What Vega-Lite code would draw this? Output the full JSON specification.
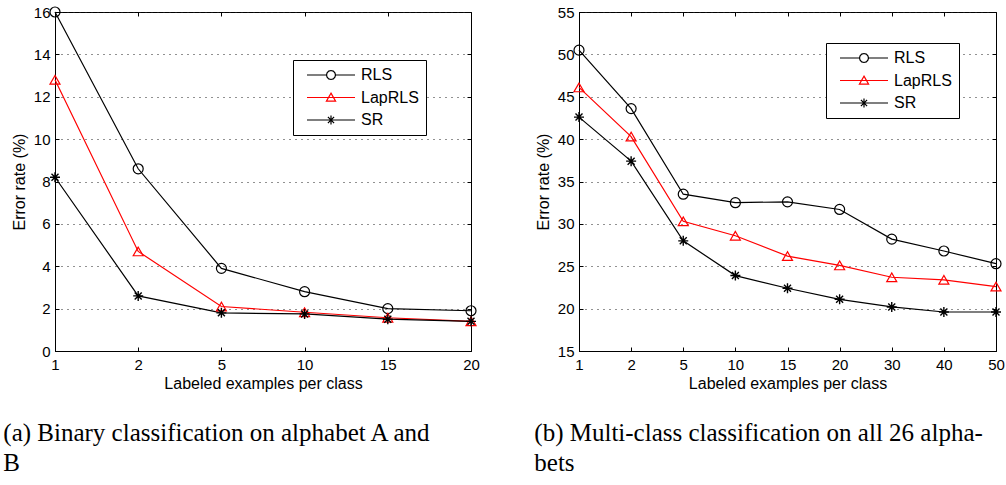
{
  "$schema": "https://vega.github.io/schema/vega-lite/v6.json",
  "background": "white",
  "padding": {"left": 2, "top": 4, "right": 0, "bottom": 0},
  "datasets": {
    "binary": [
      {"n": 1, "method": "RLS", "err": 16.0},
      {"n": 2, "method": "RLS", "err": 8.6},
      {"n": 5, "method": "RLS", "err": 3.9},
      {"n": 10, "method": "RLS", "err": 2.8},
      {"n": 15, "method": "RLS", "err": 2.0},
      {"n": 20, "method": "RLS", "err": 1.9},
      {"n": 1, "method": "LapRLS", "err": 12.8},
      {"n": 2, "method": "LapRLS", "err": 4.7},
      {"n": 5, "method": "LapRLS", "err": 2.1},
      {"n": 10, "method": "LapRLS", "err": 1.83},
      {"n": 15, "method": "LapRLS", "err": 1.57},
      {"n": 20, "method": "LapRLS", "err": 1.4},
      {"n": 1, "method": "SR", "err": 8.2},
      {"n": 2, "method": "SR", "err": 2.6},
      {"n": 5, "method": "SR", "err": 1.8},
      {"n": 10, "method": "SR", "err": 1.75},
      {"n": 15, "method": "SR", "err": 1.5},
      {"n": 20, "method": "SR", "err": 1.4}
    ],
    "multi": [
      {"n": 1, "method": "RLS", "err": 50.5},
      {"n": 2, "method": "RLS", "err": 43.6},
      {"n": 5, "method": "RLS", "err": 33.5},
      {"n": 10, "method": "RLS", "err": 32.5},
      {"n": 15, "method": "RLS", "err": 32.6},
      {"n": 20, "method": "RLS", "err": 31.7},
      {"n": 30, "method": "RLS", "err": 28.2},
      {"n": 40, "method": "RLS", "err": 26.8},
      {"n": 50, "method": "RLS", "err": 25.3},
      {"n": 1, "method": "LapRLS", "err": 46.1},
      {"n": 2, "method": "LapRLS", "err": 40.3},
      {"n": 5, "method": "LapRLS", "err": 30.3},
      {"n": 10, "method": "LapRLS", "err": 28.6},
      {"n": 15, "method": "LapRLS", "err": 26.2},
      {"n": 20, "method": "LapRLS", "err": 25.1},
      {"n": 30, "method": "LapRLS", "err": 23.7},
      {"n": 40, "method": "LapRLS", "err": 23.4},
      {"n": 50, "method": "LapRLS", "err": 22.6},
      {"n": 1, "method": "SR", "err": 42.6},
      {"n": 2, "method": "SR", "err": 37.4},
      {"n": 5, "method": "SR", "err": 28.0},
      {"n": 10, "method": "SR", "err": 23.9},
      {"n": 15, "method": "SR", "err": 22.4},
      {"n": 20, "method": "SR", "err": 21.1},
      {"n": 30, "method": "SR", "err": 20.2},
      {"n": 40, "method": "SR", "err": 19.6},
      {"n": 50, "method": "SR", "err": 19.6}
    ]
  },
  "config": {
    "view": {"stroke": "black", "strokeWidth": 1},
    "axis": {
      "labelFont": "Liberation Sans",
      "labelFontSize": 15,
      "labelColor": "black",
      "titleFont": "Liberation Sans",
      "titleFontSize": 16,
      "titleFontWeight": "normal",
      "titleColor": "black",
      "domainColor": "black",
      "tickColor": "black",
      "tickSize": -4,
      "gridColor": "#222222",
      "gridDash": [1, 5],
      "gridWidth": 1
    },
    "axisX": {"labelPadding": 10, "titlePadding": 3, "labelAngle": 0, "grid": false},
    "axisY": {"labelPadding": 9, "titlePadding": 6, "grid": true},
    "legend": {
      "orient": "none",
      "direction": "vertical",
      "padding": 7,
      "strokeColor": "black",
      "fillColor": "white",
      "labelFont": "Liberation Sans",
      "labelFontSize": 16,
      "labelColor": "black",
      "labelOffset": 45,
      "rowPadding": 6.5,
      "symbolSize": 64,
      "symbolStrokeWidth": 1.2
    }
  },
  "spacing": 53,
  "resolve": {
    "scale": {"color": "independent"},
    "legend": {"color": "independent"}
  },
  "hconcat": [
    {
      "width": 416,
      "height": 339,
      "data": {"name": "binary"},
      "title": {"text": ["(a) Binary classification on alphabet A and", "B"], "dx": -8, "font": "Liberation Serif", "fontSize": 25, "fontWeight": "normal", "color": "black", "orient": "bottom", "anchor": "start", "frame": "bounds", "lineHeight": 30, "offset": 30},
      "resolve": {"axis": {"x": "independent", "y": "independent"}},
      "encoding": {
        "x": {"field": "n", "type": "ordinal", "scale": {"type": "point", "padding": 0}, "axis": null},
        "y": {"field": "err", "type": "quantitative", "scale": {"domain": [0, 16], "nice": false, "zero": false}, "axis": null}
      },
      "layer": [
        {
          "mark": {"type": "line", "strokeWidth": 1.2},
          "encoding": {
            "x": {"field": "n", "type": "ordinal", "scale": {"type": "point", "padding": 0}, "axis": {"title": "Labeled examples per class"}},
            "y": {"field": "err", "type": "quantitative", "scale": {"domain": [0, 16], "nice": false, "zero": false}, "axis": {"title": "Error rate (%)", "values": [0, 2, 4, 6, 8, 10, 12, 14, 16]}},
            "color": {
              "field": "method", "type": "nominal",
              "scale": {"domain": ["RLS", "LapRLS", "SR"], "range": ["#000000", "#ff0000", "#000000"]},
              "legend": {
                "title": null,
                "legendX": 238, "legendY": 48,
                "encode": {"symbols": {"update": {
                  "shape": {"signal": "datum.value === 'RLS' ? 'M-0.25,0L4.625,0M6.875,0L11.75,0M6.875,0L6.724,0.563L6.313,0.974L5.75,1.125L5.188,0.974L4.776,0.563L4.625,0L4.776,-0.563L5.188,-0.974L5.75,-1.125L6.313,-0.974L6.724,-0.563Z' : datum.value === 'LapRLS' ? 'M-0.25,0L11.75,0M5.75,-1.1L6.9,0.9L4.6,0.9Z' : 'M-0.25,0L11.75,0M5.75,-1.1L5.75,1.1M4.97,-0.78L6.53,0.78M4.97,0.78L6.53,-0.78'"},
                  "fill": {"value": "transparent"},
                  "size": {"value": 64},
                  "strokeWidth": {"value": 1.2},
                  "opacity": {"value": 1}
                }}}
              }
            }
          }
        },
        {
          "transform": [{"filter": "datum.method === 'RLS'"}],
          "mark": {"type": "point", "shape": "circle", "filled": false, "color": "#000000", "strokeWidth": 1.2, "opacity": 1, "size": 100}
        },
        {
          "transform": [{"filter": "datum.method === 'LapRLS'"}],
          "mark": {"type": "point", "shape": "triangle-up", "filled": false, "color": "#ff0000", "strokeWidth": 1.2, "opacity": 1, "size": 100}
        },
        {
          "transform": [{"filter": "datum.method === 'SR'"}],
          "mark": {"type": "point", "shape": "M-1,0L1,0M0,-1L0,1M-0.7,-0.7L0.7,0.7M-0.7,0.7L0.7,-0.7", "filled": false, "color": "#000000", "strokeWidth": 1.4, "opacity": 1, "size": 100}
        },
        {
          "mark": {"type": "point", "opacity": 0},
          "encoding": {
            "x": {"field": "n", "type": "ordinal", "scale": {"type": "point", "padding": 0}, "axis": {"orient": "top", "labels": false, "title": null, "domain": false, "grid": false}},
            "y": {"field": "err", "type": "quantitative", "scale": {"domain": [0, 16], "nice": false, "zero": false}, "axis": {"orient": "right", "labels": false, "title": null, "domain": false, "grid": false, "values": [0, 2, 4, 6, 8, 10, 12, 14, 16]}}
          }
        }
      ]
    },
    {
      "width": 417,
      "height": 339,
      "data": {"name": "multi"},
      "title": {"text": ["(b) Multi-class classification on all 26 alpha-", "bets"], "dx": -1, "font": "Liberation Serif", "fontSize": 25, "fontWeight": "normal", "color": "black", "orient": "bottom", "anchor": "start", "frame": "bounds", "lineHeight": 30, "offset": 30},
      "resolve": {"axis": {"x": "independent", "y": "independent"}},
      "encoding": {
        "x": {"field": "n", "type": "ordinal", "scale": {"type": "point", "padding": 0}, "axis": null},
        "y": {"field": "err", "type": "quantitative", "scale": {"domain": [15, 55], "nice": false, "zero": false}, "axis": null}
      },
      "layer": [
        {
          "mark": {"type": "line", "strokeWidth": 1.2},
          "encoding": {
            "x": {"field": "n", "type": "ordinal", "scale": {"type": "point", "padding": 0}, "axis": {"title": "Labeled examples per class"}},
            "y": {"field": "err", "type": "quantitative", "scale": {"domain": [15, 55], "nice": false, "zero": false}, "axis": {"title": "Error rate (%)", "values": [15, 20, 25, 30, 35, 40, 45, 50, 55]}},
            "color": {
              "field": "method", "type": "nominal",
              "scale": {"domain": ["RLS", "LapRLS", "SR"], "range": ["#000000", "#ff0000", "#000000"]},
              "legend": {
                "title": null,
                "legendX": 247, "legendY": 31,
                "encode": {"symbols": {"update": {
                  "shape": {"signal": "datum.value === 'RLS' ? 'M-0.25,0L4.625,0M6.875,0L11.75,0M6.875,0L6.724,0.563L6.313,0.974L5.75,1.125L5.188,0.974L4.776,0.563L4.625,0L4.776,-0.563L5.188,-0.974L5.75,-1.125L6.313,-0.974L6.724,-0.563Z' : datum.value === 'LapRLS' ? 'M-0.25,0L11.75,0M5.75,-1.1L6.9,0.9L4.6,0.9Z' : 'M-0.25,0L11.75,0M5.75,-1.1L5.75,1.1M4.97,-0.78L6.53,0.78M4.97,0.78L6.53,-0.78'"},
                  "fill": {"value": "transparent"},
                  "size": {"value": 64},
                  "strokeWidth": {"value": 1.2},
                  "opacity": {"value": 1}
                }}}
              }
            }
          }
        },
        {
          "transform": [{"filter": "datum.method === 'RLS'"}],
          "mark": {"type": "point", "shape": "circle", "filled": false, "color": "#000000", "strokeWidth": 1.2, "opacity": 1, "size": 100}
        },
        {
          "transform": [{"filter": "datum.method === 'LapRLS'"}],
          "mark": {"type": "point", "shape": "triangle-up", "filled": false, "color": "#ff0000", "strokeWidth": 1.2, "opacity": 1, "size": 100}
        },
        {
          "transform": [{"filter": "datum.method === 'SR'"}],
          "mark": {"type": "point", "shape": "M-1,0L1,0M0,-1L0,1M-0.7,-0.7L0.7,0.7M-0.7,0.7L0.7,-0.7", "filled": false, "color": "#000000", "strokeWidth": 1.4, "opacity": 1, "size": 100}
        },
        {
          "mark": {"type": "point", "opacity": 0},
          "encoding": {
            "x": {"field": "n", "type": "ordinal", "scale": {"type": "point", "padding": 0}, "axis": {"orient": "top", "labels": false, "title": null, "domain": false, "grid": false}},
            "y": {"field": "err", "type": "quantitative", "scale": {"domain": [15, 55], "nice": false, "zero": false}, "axis": {"orient": "right", "labels": false, "title": null, "domain": false, "grid": false, "values": [15, 20, 25, 30, 35, 40, 45, 50, 55]}}
          }
        }
      ]
    }
  ]
}
